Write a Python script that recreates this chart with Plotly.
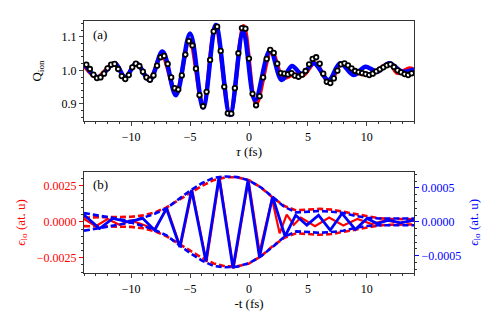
import plotly.graph_objects as go

# (a) measured Q_ion (open circles)
tau_meas = [-13.8, -13.5, -13.2, -12.9, -12.6, -12.3, -12.0, -11.7, -11.4, -11.1,
            -10.8, -10.5, -10.2, -9.9, -9.6, -9.3, -9.0, -8.7, -8.4, -8.1,
            -7.8, -7.5, -7.2, -6.9, -6.6, -6.3, -6.0, -5.7, -5.4, -5.1,
            -4.8, -4.5, -4.2, -3.9, -3.6, -3.3, -3.0, -2.7, -2.4, -2.1,
            -1.8, -1.5, -1.2, -0.9, -0.6, -0.3, 0.0, 0.3, 0.6, 0.9,
            1.2, 1.5, 1.8, 2.1, 2.4, 2.7, 3.0, 3.3, 3.6, 3.9,
            4.2, 4.5, 4.8, 5.1, 5.4, 5.7, 6.0, 6.3, 6.6, 6.9,
            7.2, 7.5, 7.8, 8.1, 8.4, 8.7, 9.0, 9.3, 9.6, 9.9,
            10.2, 10.5, 10.8, 11.1, 11.4, 11.7, 12.0, 12.3, 12.6, 12.9,
            13.2, 13.5, 13.8]
q_meas = [1.017, 1.004, 0.987, 0.977, 0.979, 0.990, 1.006, 1.017, 1.019, 1.004,
          0.983, 0.974, 0.986, 1.009, 1.020, 1.013, 0.996, 0.979, 0.972, 0.985,
          1.014, 1.039, 1.043, 1.019, 0.979, 0.947, 0.943, 0.985, 1.047, 1.087,
          1.074, 1.005, 0.926, 0.893, 0.936, 1.031, 1.116, 1.130, 1.058, 0.951,
          0.872, 0.871, 0.947, 1.051, 1.126, 1.124, 1.035, 0.930, 0.896, 0.923,
          0.979, 1.034, 1.061, 1.052, 1.020, 0.992, 0.990, 0.988, 0.992, 0.984,
          0.981, 0.987, 0.998, 1.018, 1.034, 1.039, 1.020, 0.990, 0.966, 0.962,
          0.976, 0.999, 1.018, 1.021, 1.015, 1.006, 0.998, 0.995, 0.992, 0.989,
          0.986, 0.990, 0.997, 1.003, 1.009, 1.015, 1.018, 1.010, 1.000, 0.994,
          0.989, 0.986, 0.991]

# (a) theory curves (extrema, drawn smooth)
tau_red = [-14.0, -12.9, -11.5, -10.5, -9.6, -8.45, -7.4, -6.2, -5.05, -3.9,
           -2.85, -1.6, -0.45, 0.6, 1.9, 2.9, 3.8, 4.6, 5.6, 6.8,
           7.9, 9.2, 10.3, 11.9, 12.6, 13.6, 14.0]
q_red = [1.015, 0.980, 1.020, 0.980, 1.020, 0.975, 1.045, 0.935, 1.090, 0.893,
         1.130, 0.870, 1.132, 0.900, 1.058, 0.978, 0.988, 0.985, 1.022, 0.965,
         1.020, 0.992, 0.988, 1.020, 0.992, 1.006, 1.002]
tau_blue = [-14.0, -12.8, -11.4, -10.5, -9.56, -8.43, -7.34, -6.2, -5.0, -3.89,
            -2.81, -1.62, -0.49, 0.51, 1.79, 2.78, 3.64, 4.49, 5.5, 6.76,
            7.74, 8.87, 9.87, 10.9, 11.9, 13.0, 14.0]
q_blue = [1.021, 0.979, 1.021, 0.979, 1.021, 0.971, 1.056, 0.926, 1.110, 0.889,
          1.135, 0.867, 1.115, 0.911, 1.060, 0.971, 1.013, 0.989, 1.021, 0.971,
          1.021, 0.986, 1.011, 0.996, 1.021, 0.996, 1.003]

# (b) red field (left axis)
t_red = [-14.0, -13.0, -12.0, -11.0, -10.0, -9.0, -8.0, -6.95, -5.82, -4.82,
         -3.61, -2.5, -1.31, -0.04, 0.9, 1.95, 2.6, 3.2, 3.8, 4.4,
         5.6, 6.8, 8.0, 9.2, 10.4, 11.6, 12.8, 14.0]
e_red = [0.0002, -0.0003, 0.0002, -0.0002, 0.0001, -0.0002, -0.0005, 0.00094, -0.00175, 0.0022,
         -0.0028, 0.0031, -0.00325, 0.0029, -0.0021, 0.0016, -0.0008, 0.0005, -0.0002, 0.0003,
         -0.0003, 0.0003, -0.00025, 0.0002, -0.00015, 0.0001, -0.00008, 0.00008]
t_env_red = [-14, -13, -12, -11, -10, -9, -8, -7, -6, -5, -4, -3, -2, -1, 0,
             1, 2, 3, 4, 5, 6, 7, 8, 9, 10, 11, 12, 13, 14]
env_red = [0.0003, 0.0003, 0.0003, 0.0003, 0.00035, 0.00045, 0.00065, 0.001, 0.0015, 0.002,
           0.0025, 0.0029, 0.0031, 0.0031, 0.0029, 0.0024, 0.0017, 0.0011, 0.0008, 0.00085,
           0.0009, 0.00085, 0.0007, 0.0005, 0.00035, 0.00025, 0.0002, 0.00018, 0.00018]

# (b) blue field (right axis)
t_blue = [-14.04, -12.68, -11.55, -10.27, -9.0, -8.0, -7.0, -5.87, -4.87, -3.66,
          -2.55, -1.36, -0.09, 0.89, 2.0, 3.06, 3.96, 4.91, 5.9, 6.89,
          7.89, 9.02, 10.02, 10.87, 11.86, 12.85, 13.98]
e_blue = [0.000109, -0.0000976, 0.0000503, 0.0, 0.00005, -0.000123, 0.000198, -0.00037, 0.000469, -0.000581,
          0.000657, -0.000685, 0.000609, -0.000522, 0.00037, -0.000212, 0.0000991, -0.0000488, 0.0000991, -0.000123,
          0.000124, -0.000112, 0.0000503, -0.0000237, 0.0000251, -0.0000148, 0.0000251]
t_env_blue = [-14, -13, -12, -11, -10, -9, -8, -7, -6, -5, -4, -3, -2, -1, 0,
              1, 2, 3, 4, 5, 6, 7, 8, 9, 10, 11, 12, 13, 14]
env_blue = [0.00013, 0.0001, 0.00006, 0.00003, 0.00001, 0.00006, 0.00012, 0.0002, 0.00033, 0.00046,
            0.00057, 0.00065, 0.00067, 0.00066, 0.00061, 0.00051, 0.00037, 0.00022, 0.00014, 0.00015,
            0.00016, 0.00015, 0.00013, 0.00009, 0.00006, 0.00005, 0.00005, 0.00005, 0.00005]

RED = "#ff0000"
BLUE = "#0000ff"
FONT = "Liberation Serif, Times New Roman, serif"

fig = go.Figure()

# panel (a)
fig.add_trace(go.Scatter(x=tau_red, y=q_red, mode="lines", line=dict(color=RED, width=4, shape="spline"),
                         xaxis="x", yaxis="y"))
fig.add_trace(go.Scatter(x=tau_blue, y=q_blue, mode="lines", line=dict(color=BLUE, width=4.5, shape="spline"),
                         xaxis="x", yaxis="y"))
fig.add_trace(go.Scatter(x=tau_meas, y=q_meas, mode="markers",
                         marker=dict(symbol="circle", size=4.5, color="white", line=dict(color="black", width=1.8)),
                         xaxis="x", yaxis="y"))

# panel (b)
fig.add_trace(go.Scatter(x=t_env_red, y=env_red, mode="lines", line=dict(color=RED, width=2.6, dash="6px,3px"),
                         xaxis="x2", yaxis="y2"))
fig.add_trace(go.Scatter(x=t_env_red, y=[-v for v in env_red], mode="lines",
                         line=dict(color=RED, width=2.6, dash="6px,3px"), xaxis="x2", yaxis="y2"))
fig.add_trace(go.Scatter(x=t_red, y=e_red, mode="lines", line=dict(color=RED, width=2.2),
                         xaxis="x2", yaxis="y2"))
fig.add_trace(go.Scatter(x=t_blue, y=e_blue, mode="lines", line=dict(color=BLUE, width=2.8),
                         xaxis="x2", yaxis="y3"))
fig.add_trace(go.Scatter(x=t_env_blue, y=env_blue, mode="lines", line=dict(color=BLUE, width=2.6, dash="6px,3px"),
                         xaxis="x2", yaxis="y3"))
fig.add_trace(go.Scatter(x=t_env_blue, y=[-v for v in env_blue], mode="lines",
                         line=dict(color=BLUE, width=2.6, dash="6px,3px"), xaxis="x2", yaxis="y3"))

xcommon = dict(range=[-14, 14], tickvals=[-10, -5, 0, 5, 10], ticks="outside", ticklen=4,
               showline=True, linecolor="#333", linewidth=1.2, mirror=True, showgrid=False, zeroline=False,
               tickfont=dict(size=12, color="black"),
               minor=dict(dtick=1, ticks="outside", ticklen=2, tickcolor="#333", showgrid=False))

# the page body adds an 8px offset, so the figure is 8px smaller than the window
fig.update_layout(
    width=490, height=313,
    margin=dict(l=76, r=84, t=13, b=48),
    plot_bgcolor="white", paper_bgcolor="white",
    showlegend=False,
    font=dict(family=FONT, size=12, color="black"),
    xaxis=dict(xcommon, domain=[0, 1], anchor="y",
               title=dict(text="<i>τ</i> (fs)", font=dict(size=13), standoff=4)),
    yaxis=dict(domain=[0.603, 1], anchor="x", range=[0.849, 1.147], tickvals=[0.9, 1.0, 1.1],
               tickformat=".1f", ticks="outside", ticklen=4, showline=True, linecolor="#333", linewidth=1.2,
               mirror=True, showgrid=False, zeroline=False, tickfont=dict(size=12),
               minor=dict(dtick=0.02, ticks="outside", ticklen=2, tickcolor="#333", showgrid=False),
               title=dict(text="Q<sub>ion</sub>", font=dict(size=13), standoff=16)),
    xaxis2=dict(xcommon, domain=[0, 1], anchor="y2",
                title=dict(text="-t (fs)", font=dict(size=13), standoff=4)),
    yaxis2=dict(domain=[0, 0.402], anchor="x2", range=[-0.00356, 0.00349],
                tickvals=[-0.0025, 0.0, 0.0025], tickformat=".4f", ticks="outside", ticklen=4,
                tickcolor=RED, showline=True, linecolor="#333", linewidth=1.2, mirror=True,
                showgrid=False, zeroline=False, tickfont=dict(size=12, color=RED),
                minor=dict(dtick=0.0005, ticks="outside", ticklen=2, tickcolor="#333", showgrid=False),
                title=dict(text="<i>ϵ</i><sub>lo</sub> (at. u)", font=dict(size=13, color=RED), standoff=8)),
    yaxis3=dict(overlaying="y2", side="right", anchor="x2", range=[-0.000754, 0.00074],
                tickvals=[-0.0005, 0.0, 0.0005], tickformat=".4f", ticks="outside", ticklen=4,
                tickcolor=BLUE, showline=False, showgrid=False, zeroline=False,
                tickfont=dict(size=12, color=BLUE),
                minor=dict(dtick=0.0001, ticks="outside", ticklen=2, tickcolor="#333", showgrid=False),
                title=dict(text="<i>ϵ</i><sub>lo</sub> (at. u)", font=dict(size=13, color=BLUE), standoff=8)),
    annotations=[
        dict(text="(a)", x=0.02, y=0.985, xref="paper", yref="paper", xanchor="left", yanchor="top",
             showarrow=False, font=dict(size=13)),
        dict(text="(b)", x=0.02, y=0.39, xref="paper", yref="paper", xanchor="left", yanchor="top",
             showarrow=False, font=dict(size=13)),
    ],
)

fig.write_html("out.html")
